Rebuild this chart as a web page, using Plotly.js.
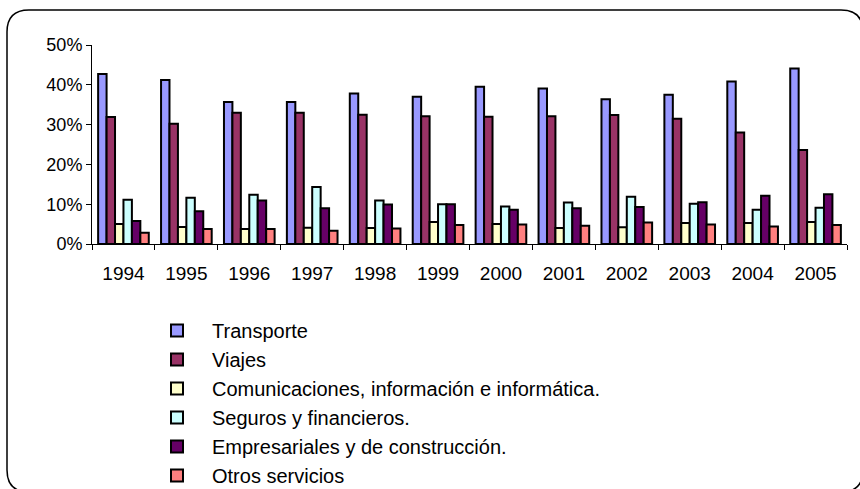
<!DOCTYPE html>
<html>
<head>
<meta charset="utf-8">
<script src="https://cdn.plot.ly/plotly-3.0.1.min.js"></script>
<style>html,body{margin:0;padding:0;background:#fff;}#chart{width:860px;height:489px;}</style>
</head>
<body>
<div id="chart"></div>
<script>
const years = ["1994","1995","1996","1997","1998","1999","2000","2001","2002","2003","2004","2005"];
const seriesNames = ["Transporte","Viajes","Comunicaciones, información e informática.","Seguros y financieros.","Empresariales y de construcción.","Otros servicios"];
const transporte = [0.427,0.412,0.357,0.357,0.378,0.370,0.395,0.391,0.364,0.375,0.408,0.441];
const viajes = [0.319,0.302,0.330,0.330,0.325,0.321,0.320,0.321,0.324,0.315,0.280,0.236];
const comunicaciones = [0.050,0.043,0.038,0.041,0.040,0.055,0.050,0.040,0.042,0.053,0.053,0.055];
const seguros = [0.111,0.116,0.124,0.143,0.109,0.100,0.094,0.104,0.119,0.101,0.086,0.091];
const empresariales = [0.058,0.082,0.109,0.090,0.099,0.100,0.086,0.090,0.093,0.105,0.121,0.125];
const otros = [0.028,0.038,0.038,0.033,0.039,0.048,0.049,0.046,0.054,0.049,0.044,0.048];
const colors = ["#9999FF","#993366","#FFFFCC","#CCFFFF","#660066","#FF8080"];
const allValues = [transporte, viajes, comunicaciones, seguros, empresariales, otros];

const FONT = "Liberation Sans, Arial, sans-serif";
const traces = allValues.map((vals, i) => ({
  type: "bar",
  x: years,
  y: vals,
  name: seriesNames[i],
  marker: {color: colors[i], line: {color: "#000000", width: 2}},
  hoverinfo: "skip"
}));

const W = 860, H = 489;
const m = {l: 92, r: 13, t: 45, b: 245, autoexpand: false};
const pw = W - m.l - m.r, ph = H - m.t - m.b;
const px = X => (X - m.l) / pw;
const py = Y => (H - m.b - Y) / ph;
// rounded chart-area border
const bx0 = 7, by0 = 10, bx1 = 863, by1 = 492, r = 22;
const borderPath =
  `M ${px(bx0 + r)},${py(by0)} L ${px(bx1 - r)},${py(by0)} Q ${px(bx1)},${py(by0)} ${px(bx1)},${py(by0 + r)} ` +
  `L ${px(bx1)},${py(by1 - r)} Q ${px(bx1)},${py(by1)} ${px(bx1 - r)},${py(by1)} ` +
  `L ${px(bx0 + r)},${py(by1)} Q ${px(bx0)},${py(by1)} ${px(bx0)},${py(by1 - r)} ` +
  `L ${px(bx0)},${py(by0 + r)} Q ${px(bx0)},${py(by0)} ${px(bx0 + r)},${py(by0)} Z`;

const layout = {
  width: W, height: H,
  margin: m,
  paper_bgcolor: "#ffffff",
  plot_bgcolor: "#ffffff",
  font: {family: FONT, size: 18, color: "#000000"},
  barmode: "group",
  bargap: 0.195,
  bargroupgap: 0,
  showlegend: true,
  legend: {
    x: px(142), y: py(311), xanchor: "left", yanchor: "top",
    font: {family: FONT, size: 20, color: "#000"},
    traceorder: "normal",
    itemwidth: 60,
    bgcolor: "rgba(0,0,0,0)"
  },
  xaxis: {
    type: "category",
    showline: true, linecolor: "#000", linewidth: 1,
    ticks: "outside", ticklen: 5, tickcolor: "#000", tickwidth: 1,
    tickson: "boundaries",
    ticklabelstandoff: 12,
    tickfont: {family: FONT, size: 19, color: "#000"},
    showgrid: false, zeroline: false,
    fixedrange: true
  },
  yaxis: {
    range: [0, 0.5],
    dtick: 0.1, tick0: 0,
    tickformat: ".0%",
    showline: true, linecolor: "#000", linewidth: 1,
    ticks: "outside", ticklen: 5, tickcolor: "#000", tickwidth: 1,
    tickfont: {family: FONT, size: 18, color: "#000"},
    showgrid: false, zeroline: false,
    fixedrange: true
  },
  shapes: [{
    type: "path", xref: "paper", yref: "paper",
    path: borderPath,
    line: {color: "#000000", width: 1.5},
    layer: "below"
  }]
};

Plotly.newPlot("chart", traces, layout, {staticPlot: true, displayModeBar: false});
</script>
</body>
</html>
